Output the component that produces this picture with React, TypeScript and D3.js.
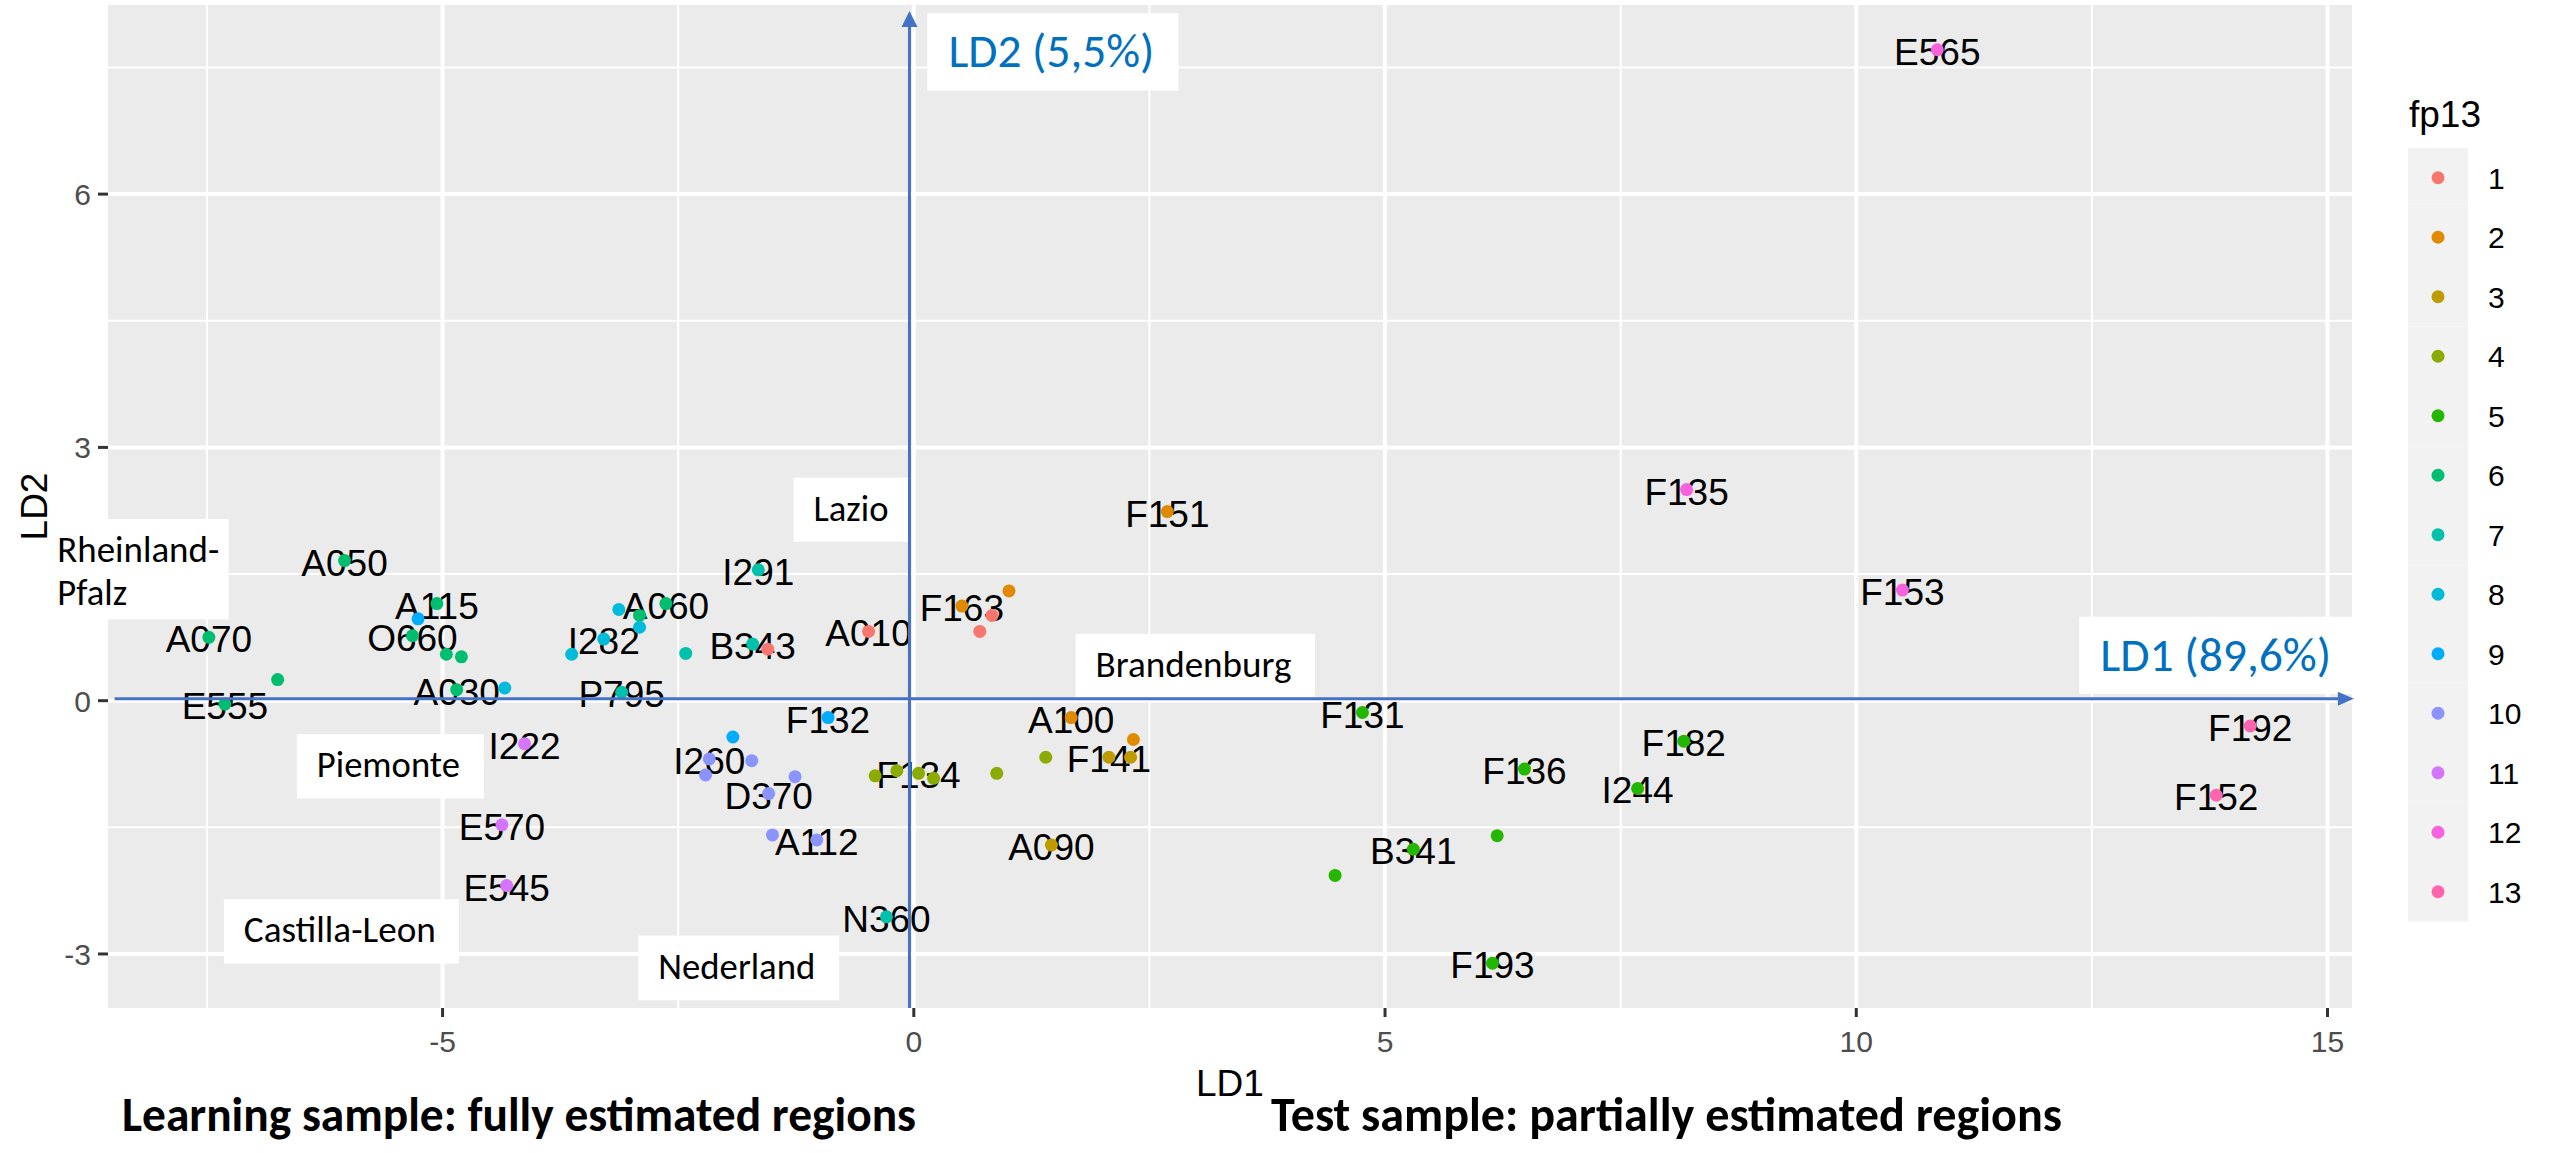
import React from 'react';
import * as d3 from 'd3';

const W = 2552;
const H = 1153;

// ---- data ----
const pointLabels = [
  'A050', 'A115', '', 'A070', 'O660', '', '', '', 'E555', 'A030', '',
  'I222', 'E570', 'E545', '', '', '', 'A060', 'I282', '', 'P795', '',
  'I291', 'B343', '', 'A010', 'F163', '', '', '', 'F151', 'F132', '',
  'I260', '', '', '', 'D370', '', 'A112', 'N360', 'F134', '', '', '', '', '',
  'A100', '', 'F141', '', 'A090', 'F131', 'F136', 'I244', 'F182', '', 'B341', '',
  'F193', 'E565', 'F135', 'F153', 'F192', 'F152',
];
const ld1 = [
  -6.04, -5.06, -5.26, -7.48, -5.32, -4.96, -4.80, -6.75, -7.31, -4.85, -4.34,
  -4.13, -4.37, -4.32, -3.13, -2.91, -2.91, -2.63, -3.29, -3.63, -3.10, -2.42,
  -1.65, -1.71, -1.55, -0.48, 0.51, 1.01, 0.83, 0.70, 2.69, -0.91, -1.92,
  -2.17, -1.72, -2.21, -1.26, -1.54, -1.50, -1.03, -0.29, 0.05, -0.41, -0.18, 0.21, 0.88, 1.40,
  1.67, 2.33, 2.07, 2.30, 1.46, 4.76, 6.48, 7.68, 8.17, 6.19, 5.30, 4.47,
  6.14, 10.86, 8.20, 10.49, 14.18, 13.82,
];
const ld2 = [
  1.66, 1.15, 0.97, 0.75, 0.77, 0.55, 0.52, 0.25, -0.04, 0.13, 0.15,
  -0.51, -1.47, -2.19, 1.08, 1.01, 0.87, 1.15, 0.73, 0.55, 0.10, 0.56,
  1.55, 0.67, 0.61, 0.82, 1.12, 1.30, 1.01, 0.82, 2.24, -0.20, -0.43,
  -0.69, -0.71, -0.88, -0.90, -1.10, -1.59, -1.65, -2.56, -0.86, -0.89, -0.83, -0.92, -0.86, -0.67,
  -0.20, -0.46, -0.67, -0.67, -1.71, -0.14, -0.81, -1.04, -0.48, -1.60, -1.76, -2.07,
  -3.11, 7.71, 2.50, 1.31, -0.30, -1.12,
];
const fp13 = [
  6, 6, 9, 6, 6, 6, 6, 6, 6, 6, 8,
  11, 11, 11, 8, 6, 8, 6, 8, 8, 7, 7,
  7, 7, 1, 1, 2, 2, 1, 1, 2, 9, 9,
  10, 10, 10, 10, 10, 10, 10, 7, 4, 4, 4, 4, 4, 4,
  2, 2, 3, 3, 3, 5, 5, 5, 5, 5, 5, 5,
  5, 12, 12, 12, 13, 13,
];

const levels = ['1', '2', '3', '4', '5', '6', '7', '8', '9', '10', '11', '12', '13'];
const levelColors = [
  '#F8766D', '#E18A00', '#BE9C00', '#8CAB00', '#24B700', '#00BE70', '#00C1AB',
  '#00BBDA', '#00ACFC', '#8B93FF', '#D575FE', '#F962DD', '#FF65AC',
];

const xMajor = [-5, 0, 5, 10, 15];
const xMinor = [-7.5, -2.5, 2.5, 7.5, 12.5];
const yMajor = [-3, 0, 3, 6];
const yMinor = [-1.5, 1.5, 4.5, 7.5];
const xDomain = [-8.55, 15.26];
const yDomain = [-3.64, 8.24];

// region annotation boxes (data coordinates of box corners)
const regionNames = [['Rheinland-', 'Pfalz'], ['Lazio'], ['Brandenburg'], ['Piemonte'], ['Castilla-Leon'], ['Nederland']];
const regionX0 = [-9.18, -1.277, 1.716, -6.546, -7.321, -2.923];
const regionX1 = [-7.27, -0.056, 4.256, -4.562, -4.827, -0.792];
const regionY0 = [2.152, 2.641, 0.791, -0.397, -2.352, -2.782];
const regionY1 = [0.963, 1.882, 0.044, -1.159, -3.114, -3.549];
const regionTextW = [[162, 70], [75], [196], [143], [192], [157]];

const axisNames = ['LD2 (5,5%)', 'LD1 (89,6%)'];
const axisX0 = [0.144, 12.366];
const axisX1 = [2.807, 15.261];
const axisY0 = [8.142, 0.995];
const axisY1 = [7.225, 0.079];
const axisTextW = [206, 231];

const captions = ['Learning sample: fully estimated regions', 'Test sample: partially estimated regions'];

// arrows (data coordinates)
const hArrow = { x0: -8.48, x1: 15.28, y: 0.024 };
const vArrow = { x: -0.046, y0: -3.64, y1: 8.17 };

const PL = 108, PR = 2352, PT = 5, PB = 1008;

export default function App() {
  const x = d3.scaleLinear().domain(xDomain).range([PL, PR]);
  const y = d3.scaleLinear().domain(yDomain).range([PB, PT]);
  const color = d3.scaleOrdinal<string, string>().domain(levels).range(levelColors);

  const pts = ld1.map((v, i) => ({ x: v, y: ld2[i], g: String(fp13[i]), label: pointLabels[i] }));
  const ggFont = "'Liberation Sans', Arial, Helvetica, sans-serif";
  const calFont = "Carlito, Calibri, Lato, 'Open Sans', sans-serif";
  const blue = '#4472C4';
  const ax = x(hArrow.x1);
  const ay = y(hArrow.y);
  const vx = x(vArrow.x);
  const vy = y(vArrow.y1);

  return (
    <svg width={W} height={H} style={{ position: 'absolute', left: 0, top: 0, background: '#fff' }}>
      <rect x={0} y={0} width={W} height={H} fill="#fff" />
      <rect x={PL} y={PT} width={PR - PL} height={PB - PT} fill="#EBEBEB" />
      {xMinor.map((v) => (
        <line key={'xm' + v} x1={x(v)} x2={x(v)} y1={PT} y2={PB} stroke="#fff" strokeWidth={2} />
      ))}
      {yMinor.map((v) => (
        <line key={'ym' + v} x1={PL} x2={PR} y1={y(v)} y2={y(v)} stroke="#fff" strokeWidth={2} />
      ))}
      {xMajor.map((v) => (
        <line key={'xM' + v} x1={x(v)} x2={x(v)} y1={PT} y2={PB} stroke="#fff" strokeWidth={4} />
      ))}
      {yMajor.map((v) => (
        <line key={'yM' + v} x1={PL} x2={PR} y1={y(v)} y2={y(v)} stroke="#fff" strokeWidth={4} />
      ))}
      {/* axes ticks */}
      {xMajor.map((v) => (
        <g key={'xt' + v}>
          <line x1={x(v)} x2={x(v)} y1={PB} y2={PB + 9} stroke="#333" strokeWidth={3} />
          <text x={x(v)} y={1052} textAnchor="middle" fontFamily={ggFont} fontSize={30} fill="#4D4D4D">
            {v}
          </text>
        </g>
      ))}
      {yMajor.map((v) => (
        <g key={'yt' + v}>
          <line x1={PL - 10} x2={PL} y1={y(v)} y2={y(v)} stroke="#333" strokeWidth={3} />
          <text x={91} y={y(v) + 11} textAnchor="end" fontFamily={ggFont} fontSize={30} fill="#4D4D4D">
            {v}
          </text>
        </g>
      ))}
      <text x={(PL + PR) / 2} y={1096} textAnchor="middle" fontFamily={ggFont} fontSize={37} fill="#000">
        LD1
      </text>
      <text
        transform={`translate(47,${(PT + PB) / 2}) rotate(-90)`}
        textAnchor="middle"
        fontFamily={ggFont}
        fontSize={37}
        fill="#000"
      >
        LD2
      </text>

      {/* point labels */}
      {pts.filter((p) => p.label).map((p, i) => (
        <text key={'lb' + i} x={x(p.x)} y={y(p.y) + 15} textAnchor="middle" fontFamily={ggFont} fontSize={37} fill="#000">
          {p.label}
        </text>
      ))}
      {/* points */}
      {pts.map((p, i) => (
        <circle key={'pt' + i} cx={x(p.x)} cy={y(p.y)} r={6.5} fill={color(p.g)} />
      ))}

      {/* region boxes */}
      {regionNames.map((lines, i) => {
        const bx = x(regionX0[i]);
        const by = y(regionY0[i]);
        const bw = x(regionX1[i]) - bx;
        const bh = y(regionY1[i]) - by;
        const padX = lines.length > 1 ? 8.6 : 20;
        return (
          <g key={'rg' + i}>
            <rect x={bx} y={by} width={bw} height={bh} fill="#fff" />
            {lines.map((ln, j) => (
              <text
                key={j}
                x={bx + padX}
                y={by + 43 + j * 42.8}
                fontFamily={calFont}
                fontSize={37}
                fill="#000"
                textLength={regionTextW[i][j]}
                lengthAdjust="spacingAndGlyphs"
              >
                {ln}
              </text>
            ))}
          </g>
        );
      })}
      {/* axis name boxes */}
      {axisNames.map((t, i) => {
        const bx = x(axisX0[i]);
        const by = y(axisY0[i]);
        const bw = x(axisX1[i]) - bx;
        const bh = y(axisY1[i]) - by;
        return (
          <g key={'an' + i}>
            <rect x={bx} y={by} width={bw} height={bh} fill="#fff" />
            <text
              x={bx + 21}
              y={by + 54}
              fontFamily={calFont}
              fontSize={47}
              fill="#0070C0"
              textLength={axisTextW[i]}
              lengthAdjust="spacingAndGlyphs"
            >
              {t}
            </text>
          </g>
        );
      })}

      {/* arrows */}
      <line x1={x(hArrow.x0)} x2={ax - 12} y1={ay} y2={ay} stroke={blue} strokeWidth={3} />
      <path d={`M${ax},${ay} L${ax - 16},${ay - 7} L${ax - 16},${ay + 7} Z`} fill={blue} />
      <line x1={vx} x2={vx} y1={y(vArrow.y0)} y2={vy + 12} stroke={blue} strokeWidth={3} />
      <path d={`M${vx},${vy} L${vx - 8},${vy + 16} L${vx + 8},${vy + 16} Z`} fill={blue} />

      {/* legend */}
      <text x={2409} y={127} fontFamily={ggFont} fontSize={37} fill="#000">
        fp13
      </text>
      {levels.map((lv, i) => {
        const top = 148 + i * 59.5;
        return (
          <g key={'lg' + lv}>
            <rect x={2408} y={top} width={60} height={59.5} fill="#F2F2F2" />
            <circle cx={2438} cy={top + 29.75} r={6.5} fill={color(lv)} />
            <text x={2488} y={top + 29.75 + 11} fontFamily={ggFont} fontSize={30} fill="#000">
              {lv}
            </text>
          </g>
        );
      })}

      {/* captions */}
      <text x={122} y={1131} fontFamily={calFont} fontWeight={700} fontSize={48} fill="#000" textLength={794} lengthAdjust="spacingAndGlyphs">
        {captions[0]}
      </text>
      <text x={1271} y={1131} fontFamily={calFont} fontWeight={700} fontSize={48} fill="#000" textLength={791} lengthAdjust="spacingAndGlyphs">
        {captions[1]}
      </text>
    </svg>
  );
}
